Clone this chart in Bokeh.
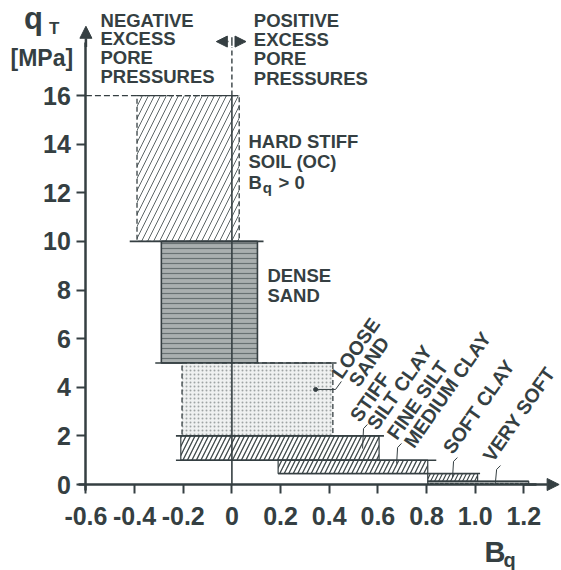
import numpy as np
from bokeh.plotting import figure
from bokeh.models import FixedTicker, Arrow, NormalHead
from bokeh.core.properties import value
from bokeh.embed import file_html
from bokeh.resources import INLINE

# ---------------- data ----------------
zones = ["HARD STIFF SOIL (OC)", "DENSE SAND", "LOOSE SAND", "STIFF SILT CLAY",
         "FINE SILT MEDIUM CLAY", "SOFT CLAY", "VERY SOFT"]
bq_min = [-0.39, -0.29, -0.205, -0.21, 0.19, 0.805, 0.805]
bq_max = [0.03, 0.105, 0.415, 0.605, 0.805, 1.01, 1.22]
qt_min = [10.0, 5.0, 2.0, 1.0, 0.45, 0.13, 0.0]
qt_max = [16.0, 10.0, 5.0, 2.0, 1.0, 0.45, 0.13]

# solid zone boundaries (qT level, Bq from, Bq to)
boundary_qt = [10.0, 5.0, 2.0, 1.0, 0.45, 0.13]
boundary_from = [-0.42, -0.315, -0.23, -0.23, 0.19, 0.805]
boundary_to = [0.13, 0.43, 0.625, 0.84, 1.02, 1.22]

x_ticks = [-0.6, -0.4, -0.2, 0, 0.2, 0.4, 0.6, 0.8, 1.0, 1.2]
x_tick_labels = ["-0.6", "-0.4", "-0.2", "0", "0.2", "0.4", "0.6", "0.8", "1.0", "1.2"]
y_ticks = [0, 2, 4, 6, 8, 10, 12, 14, 16]
y_tick_labels = ["0", "2", "4", "6", "8", "10", "12", "14", "16"]

# ---------------- layout ----------------
W, H = 561, 570
PX_X, PX_Y = 243.3, 24.31
X0 = -231.4 / PX_X
X1 = X0 + W / PX_X
Y1 = 484.0 / PX_Y
Y0 = Y1 - H / PX_Y
BASE_FIX = 0.39  # baseline correction, fraction of font size


def up(y, fs):
    return y + BASE_FIX * fs / PX_Y


INK = "#353f42"
FONT = value("Liberation Sans")

p = figure(width=W, height=H, x_range=(X0, X1), y_range=(Y0, Y1),
           output_backend="svg", toolbar_location=None, min_border=0)
p.xgrid.visible = False
p.ygrid.visible = False
p.outline_line_color = None
p.background_fill_color = "white"
p.border_fill_color = "white"

styles = {
    "HARD STIFF SOIL (OC)": dict(fill_color="white", hatch_pattern="/", hatch_scale=12,
                                 hatch_weight=0.9, hatch_color="#4a5455",
                                 line_dash="5 3", line_width=1.3),
    "DENSE SAND": dict(fill_color="#a9afaf", hatch_pattern="-", hatch_scale=5,
                       hatch_weight=1.2, hatch_color="#687172",
                       line_dash="solid", line_width=1.6),
    "LOOSE SAND": dict(fill_color="#eff1f1", hatch_pattern=".", hatch_scale=4,
                       hatch_weight=1.0, hatch_color="#9ea4a4",
                       line_dash="5 3", line_width=1.3),
    "STIFF SILT CLAY": dict(fill_color="white", hatch_pattern="/", hatch_scale=9,
                            hatch_weight=1.3, hatch_color="#3f4849",
                            line_dash="solid", line_width=1.2),
    "FINE SILT MEDIUM CLAY": dict(fill_color="white", hatch_pattern="/", hatch_scale=9,
                                  hatch_weight=1.3, hatch_color="#3f4849",
                                  line_dash="solid", line_width=1.2),
    "SOFT CLAY": dict(fill_color="white", hatch_pattern="/", hatch_scale=8,
                      hatch_weight=1.2, hatch_color="#3f4849",
                      line_dash="solid", line_width=1.2),
    "VERY SOFT": dict(fill_color="#d0d4d4", hatch_pattern='"', hatch_scale=5,
                      hatch_weight=1.2, hatch_color="#3f4849",
                      line_dash="solid", line_width=1.2),
}

for i, z in enumerate(zones):
    p.quad(left=[bq_min[i]], right=[bq_max[i]], bottom=[qt_min[i]], top=[qt_max[i]],
           line_color=INK, **styles[z])

# boundaries
p.segment(x0=boundary_from, y0=boundary_qt, x1=boundary_to, y1=boundary_qt,
          line_color=INK, line_width=1.6)
# dashed top of hard-soil zone back to the axis
p.segment(x0=[x_ticks[0]], y0=[qt_max[0]], x1=[bq_max[0]], y1=[qt_max[0]],
          line_color=INK, line_width=1.3, line_dash="6 3")
# Bq = 0 line
p.segment(x0=[0], y0=[0], x1=[0], y1=[qt_max[0]], line_color=INK, line_width=1.6)
p.segment(x0=[0], y0=[qt_max[0]], x1=[0], y1=[18.0], line_color=INK,
          line_width=1.4, line_dash="5 3")
# double arrow at top of Bq = 0 line
for xs, xe in [(-0.014, -0.064), (0.014, 0.058)]:
    p.add_layout(Arrow(end=NormalHead(size=11, fill_color=INK, line_color=INK),
                       x_start=xs, y_start=18.22, x_end=xe, y_end=18.22,
                       line_color=INK, line_width=1.5))
p.segment(x0=[0], y0=[18.05], x1=[0], y1=[18.4], line_color=INK, line_width=1.4)

# axes at fixed locations
xa = p.xaxis[0]
xa.fixed_location = 0
xa.ticker = FixedTicker(ticks=x_ticks)
xa.major_label_overrides = dict(zip(x_ticks, x_tick_labels))
xa.bounds = (-0.63, 1.25)
ya = p.yaxis[0]
ya.fixed_location = x_ticks[0]
ya.ticker = FixedTicker(ticks=y_ticks)
ya.major_label_overrides = dict(zip(y_ticks, y_tick_labels))
ya.bounds = (-0.25, 18.2)
for ax in (xa, ya):
    ax.axis_line_color = INK
    ax.axis_line_width = 2.5
    ax.major_tick_line_color = INK
    ax.major_tick_line_width = 2
    ax.major_tick_out = 9
    ax.major_tick_in = 0
    ax.minor_tick_line_color = None
    ax.major_label_text_font = "Liberation Sans"
    ax.major_label_text_font_style = "bold"
    ax.major_label_text_font_size = "25px"
    ax.major_label_text_color = INK
xa.major_label_standoff = 13
ya.major_label_standoff = 6

# axis arrows
p.add_layout(Arrow(end=NormalHead(size=12, fill_color=INK, line_color=INK),
                   x_start=x_ticks[0], y_start=18.0, x_end=x_ticks[0], y_end=18.85,
                   line_color=INK, line_width=2.5))
p.add_layout(Arrow(end=NormalHead(size=12, fill_color=INK, line_color=INK),
                   x_start=1.2, y_start=0, x_end=1.345, y_end=0,
                   line_color=INK, line_width=2.5))

# horizontal labels
FS = 18.5
neg_lines = ["NEGATIVE", "EXCESS", "PORE", "PRESSURES"]
pos_lines = ["POSITIVE", "EXCESS", "PORE", "PRESSURES"]
hard_lines = ["HARD STIFF", "SOIL (OC)"]
dense_lines = ["DENSE", "SAND"]
h_text = neg_lines + pos_lines + hard_lines + dense_lines
h_x = [-0.54] * 4 + [0.09] * 4 + [0.068] * 2 + [0.146] * 2
h_y = [18.81, 18.03, 17.26, 16.48, 18.81, 18.00, 17.22, 16.41, 13.82, 12.98, 8.31, 7.49]
p.text(x=h_x, y=[up(v, FS) for v in h_y], text=h_text, text_font=FONT,
       text_font_style="bold", text_font_size=f"{FS}px", text_color=INK,
       text_align="left", text_baseline="alphabetic")
# B_q > 0
p.text(x=[0.068, 0.192], y=[up(12.14, FS)] * 2, text=["B", "> 0"], text_font=FONT,
       text_font_style="bold", text_font_size=f"{FS}px", text_color=INK,
       text_align="left", text_baseline="alphabetic")
p.text(x=[0.127], y=[up(11.97, 15)], text=["q"], text_font=FONT, text_font_style="bold",
       text_font_size="15px", text_color=INK, text_align="left",
       text_baseline="alphabetic")

# rotated labels
RFS = 19.5
rot_lines = [["LOOSE", "SAND"], ["STIFF", "SILT CLAY"], ["FINE SILT", "MEDIUM CLAY"],
             ["SOFT CLAY"], ["VERY SOFT"]]
rot_x = [0.454, 0.529, 0.681, 0.911, 1.075]
rot_y = [4.28, 2.51, 1.77, 1.19, 0.86]
theta = np.deg2rad(55)
perp, along = 18.5, 3.0
dx2 = (perp * np.sin(theta) + along * np.cos(theta)) / PX_X
dy2 = -(perp * np.cos(theta) - along * np.sin(theta)) / PX_Y
fx = -BASE_FIX * RFS * np.sin(theta) / PX_X
fy = BASE_FIX * RFS * np.cos(theta) / PX_Y
r_text, r_x, r_y = [], [], []
for lines, x, y in zip(rot_lines, rot_x, rot_y):
    for k, t in enumerate(lines):
        r_text.append(t)
        r_x.append(x + k * dx2 + fx)
        r_y.append(y + k * dy2 + fy)
p.text(x=r_x, y=r_y, text=r_text, angle=float(theta), text_font=FONT,
       text_font_style="bold", text_font_size=f"{RFS}px", text_color=INK,
       text_align="left", text_baseline="alphabetic")

# leader lines
lead_xs = [[0.344, 0.426, 0.450], [0.537, 0.541, 0.557], [0.677, 0.681, 0.697],
           [0.907, 0.911, 0.927], [1.083, 1.088, 1.104]]
lead_ys = [[3.91, 3.91, 4.24], [1.48, 2.30, 2.47], [0.86, 1.52, 1.69],
           [0.30, 0.95, 1.11], [0.07, 0.62, 0.78]]
p.multi_line(xs=lead_xs, ys=lead_ys, line_color=INK, line_width=1.0)
p.scatter(x=[0.344], y=[3.91], size=4, color=INK)

# axis titles
p.text(x=[-0.855], y=[up(18.68, 31)], text=["q"], text_font=FONT, text_font_style="bold",
       text_font_size="31px", text_color=INK, text_baseline="alphabetic")
p.text(x=[-0.752], y=[up(18.47, 17)], text=["T"], text_font=FONT,
       text_font_style="bold", text_font_size="17px", text_color=INK,
       text_baseline="alphabetic")
p.text(x=[-0.91], y=[up(17.16, 23)], text=["[MPa]"], text_font=FONT,
       text_font_style="bold", text_font_size="23px", text_color=INK,
       text_baseline="alphabetic")
p.text(x=[1.038], y=[up(-3.25, 29)], text=["B"], text_font=FONT, text_font_style="bold",
       text_font_size="29px", text_color=INK, text_baseline="alphabetic")
p.text(x=[1.116], y=[up(-3.42, 20)], text=["q"], text_font=FONT, text_font_style="bold",
       text_font_size="20px", text_color=INK, text_baseline="alphabetic")

open("out.html", "w").write(file_html(p, INLINE))
